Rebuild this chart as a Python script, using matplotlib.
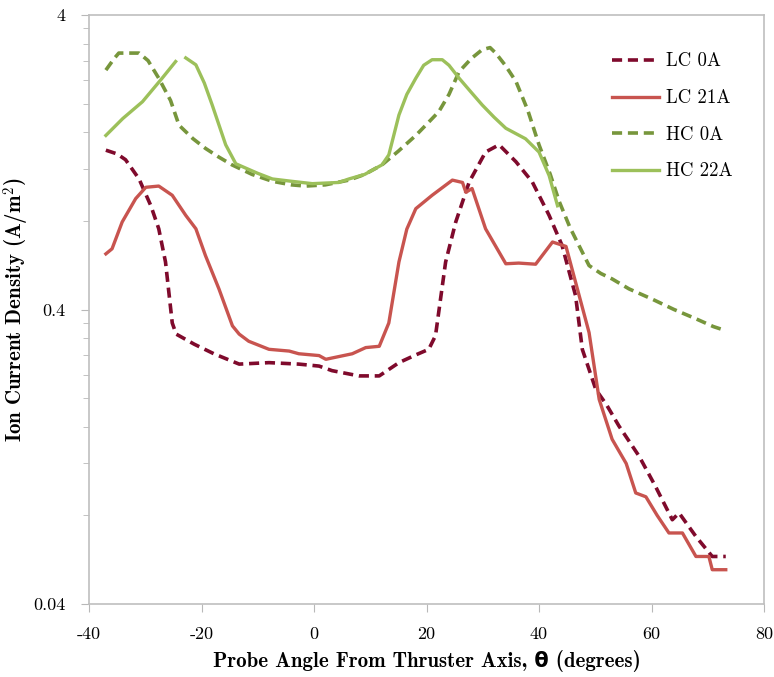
import numpy as np
import matplotlib.pyplot as plt
from matplotlib.ticker import FixedLocator, FixedFormatter, NullFormatter

plt.rcParams['font.family'] = ['cmr10', 'DejaVu Serif']
plt.rcParams['mathtext.fontset'] = 'cm'
plt.rcParams['axes.unicode_minus'] = False

# LC 0A (dashed dark red)
lc0_x = [-37, -35, -33.5, -31.1, -29, -27.6, -26.4, -25.2, -24.5, -21.3, -17.8, -13.3, -8, -2.7, 0.9, 3.2, 8, 11.6,
         15.1, 18, 20.4, 21.6, 23.4, 25.2, 27.6, 30.5, 32.9, 35.9, 38.8, 41.8, 44.1, 46.5, 47.7, 50.1, 52, 54.2,
         57.8, 60.7, 63.7, 64.9, 67.9, 70.8, 73.2]
lc0_y = [1.39, 1.35, 1.29, 1.11, 0.90, 0.752, 0.58, 0.36, 0.33, 0.305, 0.283, 0.261, 0.264, 0.261, 0.257, 0.248,
         0.238, 0.238, 0.264, 0.28, 0.293, 0.326, 0.58, 0.793, 1.085, 1.37, 1.45, 1.27, 1.085, 0.835, 0.66, 0.446,
         0.293, 0.214, 0.19, 0.161, 0.127, 0.1004, 0.0773, 0.0815, 0.0678, 0.058, 0.058]

# LC 21A (solid red)
lc21_x = [-37, -35.9, -34.1, -31.7, -29.9, -27.6, -25.2, -22.8, -21, -19.3, -16.9, -14.5, -13.3, -11.6, -8, -4.4,
          -2.7, 0.9, 2.1, 6.8, 9.2, 11.6, 13.3, 15.1, 16.5, 18.1, 21, 24.6, 26.4, 27, 28.1, 30.5, 34.1, 36.4, 39.4,
          42.4, 44.8, 48.9, 50.7, 53, 55.5, 57.2, 59, 61, 63.1, 65.5, 67.9, 70.2, 70.8, 73.2]
lc21_y = [0.618, 0.643, 0.793, 0.952, 1.04, 1.05, 0.977, 0.835, 0.752, 0.61, 0.47, 0.352, 0.33, 0.312, 0.293, 0.289,
          0.283, 0.279, 0.271, 0.283, 0.297, 0.30, 0.36, 0.58, 0.75, 0.88, 0.977, 1.10, 1.08, 1.0, 1.03, 0.752, 0.572,
          0.575, 0.57, 0.678, 0.655, 0.334, 0.198, 0.145, 0.12, 0.0953, 0.0925, 0.08, 0.0697, 0.0697, 0.058, 0.058,
          0.0523, 0.0523]

# HC 0A (dashed dark green)
hc0_x = [-37, -35.5, -34.7, -31.1, -29.5, -27.6, -25.5, -24, -21.5, -19.3, -17, -14.6, -11, -7.4, -4, -1.5, 2, 6.2,
         9, 12.1, 15, 18.1, 20, 22.2, 24, 25.8, 28, 29.9, 31.3, 32.3, 34, 35.9, 38, 40, 42, 43.6, 45.5, 47.1, 48.9,
         51, 53, 56, 60.1, 64, 67.9, 71, 73.2]
hc0_y = [2.60, 2.85, 2.97, 2.97, 2.80, 2.44, 2.05, 1.69, 1.52, 1.41, 1.32, 1.24, 1.15, 1.09, 1.06, 1.05, 1.06, 1.10,
         1.15, 1.24, 1.38, 1.56, 1.70, 1.88, 2.15, 2.57, 2.85, 3.05, 3.10, 2.97, 2.70, 2.38, 1.90, 1.45, 1.15, 0.93,
         0.76, 0.66, 0.564, 0.53, 0.508, 0.47, 0.434, 0.40, 0.372, 0.35, 0.339]

# HC 22A (solid light green), gap near the first peak
hc22_x = [-37, -34, -30.5, -27, -24.6, np.nan, -22.8, -21, -19.5, -18.1, -15.7, -13.9, -10, -7.4, -4, -0.3, 4.4,
          6.2, 9, 12.1, 13.3, 15.1, 16.5, 18.1, 19.5, 21, 22.8, 24, 25.8, 28, 29.9, 32, 34.1, 37.6, 40, 41.8, 43.3]
hc22_y = [1.56, 1.78, 2.03, 2.44, 2.78, np.nan, 2.86, 2.71, 2.35, 1.98, 1.45, 1.25, 1.16, 1.11, 1.09, 1.07, 1.08,
          1.11, 1.15, 1.24, 1.34, 1.83, 2.15, 2.44, 2.70, 2.82, 2.82, 2.70, 2.44, 2.18, 1.98, 1.80, 1.65, 1.52, 1.37,
          1.14, 0.90]

dash = (0, (2.8, 1.6))

fig = plt.figure(figsize=(7.74, 6.77), dpi=100)
ax = fig.add_axes([89 / 774, 1 - 604 / 677, 675 / 774, 589 / 677])

ax.plot(lc0_x, lc0_y, color='#7f0a2c', lw=2.6, linestyle=dash, label='LC 0A')
ax.plot(lc21_x, lc21_y, color='#c8544f', lw=2.4, label='LC 21A')
ax.plot(hc0_x, hc0_y, color='#77963c', lw=2.6, linestyle=dash, label='HC 0A')
ax.plot(hc22_x, hc22_y, color='#9cc05a', lw=2.4, label='HC 22A')

ax.set_yscale('log')
ax.set_xlim(-40, 80)
ax.set_ylim(0.04, 4)

# ticks
ax.set_xticks(np.arange(-40, 81, 20))
ax.yaxis.set_major_locator(FixedLocator([0.04, 0.4, 4]))
ax.yaxis.set_major_formatter(FixedFormatter(['0.04', '0.4', '4']))
minors = [0.04 * k for k in range(2, 10)] + [0.4 * k for k in range(2, 10)]
ax.yaxis.set_minor_locator(FixedLocator(minors))
ax.yaxis.set_minor_formatter(NullFormatter())
ax.tick_params(axis='both', which='major', direction='out', length=6, color='#b8b8b8', labelsize=13)
ax.tick_params(axis='x', which='major', pad=10)
ax.tick_params(axis='y', which='major', pad=11)
ax.tick_params(axis='y', which='minor', direction='out', length=4, color='#b8b8b8')
ax.tick_params(axis='x', which='minor', bottom=False)

for s in ax.spines.values():
    s.set_color('#bfbfbf')
    s.set_linewidth(1.2)

ax.set_xlabel('Probe Angle From Thruster Axis, θ (degrees)', fontsize=15,
              family=['cmb10', 'DejaVu Sans'], fontweight='bold', labelpad=6)
ax.set_ylabel(r'Ion Current Density (A/m$^{\mathbf{2}}$)', fontsize=15,
              family=['cmb10', 'DejaVu Serif'])
ax.yaxis.set_label_coords(-0.084, 0.5)

ax.legend(loc='upper left', bbox_to_anchor=(0.75, 0.965), frameon=False, fontsize=13.5,
          handlelength=2.5, labelspacing=1.0, handletextpad=0.35)

fig.savefig('out.png', dpi=100)
